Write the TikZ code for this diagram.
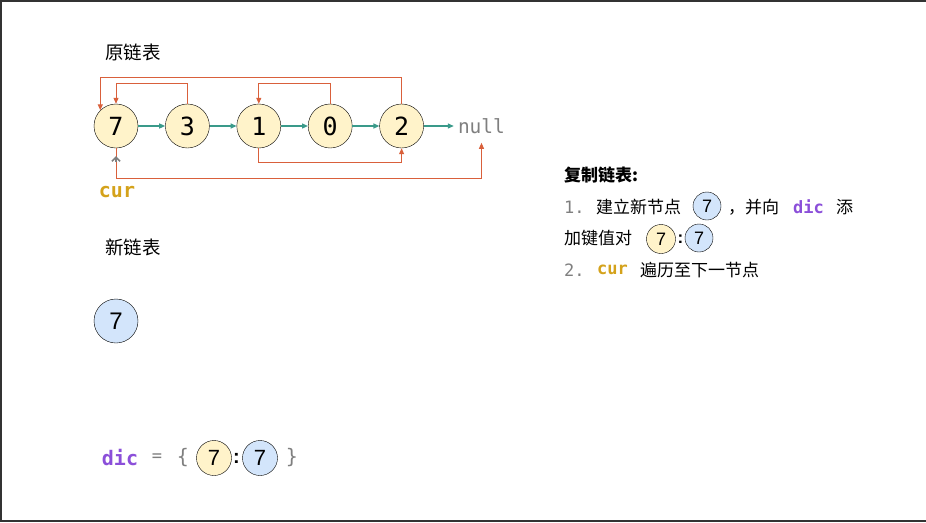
\documentclass[tikz,border=0pt]{standalone}
\usepackage{fontspec}
\setmainfont{Liberation Sans}
\setmonofont{DejaVu Sans Mono}
\newfontfamily\cjk{Noto Sans CJK SC}
\usetikzlibrary{arrows.meta,positioning}

\definecolor{ylwfill}{HTML}{FFF3CA}
\definecolor{blufill}{HTML}{D3E5FB}
\definecolor{nxtcol}{HTML}{3A9A8A}
\definecolor{rndcol}{HTML}{D9603B}
\definecolor{curcol}{HTML}{D4A21B}
\definecolor{diccol}{HTML}{8B4FD9}
\definecolor{gry}{HTML}{7F7F7F}

\tikzset{
  oldnode/.style={circle,draw,fill=ylwfill,minimum size=44pt,inner sep=0pt,
    font=\ttfamily\fontsize{25}{25}\selectfont},
  newnode/.style={circle,draw,fill=blufill,minimum size=44pt,inner sep=0pt,
    font=\fontsize{24}{24}\selectfont},
  dicold/.style={oldnode,minimum size=35pt,font=\fontsize{22}{22}\selectfont},
  dicnew/.style={newnode,minimum size=35pt,font=\fontsize{22}{22}\selectfont},
  smallold/.style={oldnode,minimum size=29pt,font=\fontsize{18}{18}\selectfont},
  smallnew/.style={newnode,minimum size=28pt,font=\fontsize{18}{18}\selectfont},
  colon/.style={inner sep=0pt,font=\bfseries\fontsize{20}{20}\selectfont},
  nextarr/.style={nxtcol,line width=1.2pt,-{Triangle[length=6pt,width=5pt]}},
  randarr/.style={rndcol,line width=1pt,-{Triangle[length=6pt,width=5pt]}},
  curarr/.style={gry,line width=1.5pt,-{Straight Barb[length=4pt,width=8pt]}},
  title/.style={inner sep=0pt,font=\cjk\fontsize{18.5}{18.5}\selectfont},
  note/.style={inner sep=0pt,anchor=west,font=\cjk\fontsize{17}{17}\selectfont},
  monogry/.style={inner sep=0pt,text=gry,font=\ttfamily\fontsize{17}{17}\selectfont},
  curtxt/.style={inner sep=0pt,text=curcol,font=\ttfamily\bfseries\fontsize{17}{17}\selectfont},
  dictxt/.style={inner sep=0pt,text=diccol,font=\ttfamily\bfseries\fontsize{17}{17}\selectfont}
}

\begin{document}
\begin{tikzpicture}[x=1pt,y=-1pt]
\useasboundingbox (0,0) rectangle (926,522);
\draw[line width=1.5pt,black!80] (926,1)--(1,1)--(1,521)--(926,521);

% original list
\node[title] (oldlbl) at (133,52) {原链表};
\node[oldnode] (a7) at (116,126) {7};
\node[oldnode,right=27pt of a7] (a3) {3};
\node[oldnode,right=27pt of a3] (a1) {1};
\node[oldnode,right=27pt of a1] (a0) {0};
\node[oldnode,right=27pt of a0] (a2) {2};
\node[monogry,font=\ttfamily\fontsize{19.5}{19.5}\selectfont,right=34pt of a2] (nul) {null};
\draw[nextarr] (a7)--(a3);
\draw[nextarr] (a3)--(a1);
\draw[nextarr] (a1)--(a0);
\draw[nextarr] (a0)--(a2);
\draw[nextarr,shorten >=4pt] (a2)--(nul);

% random pointers
\draw[randarr] (a3.north) -- ++(0,-20) -| (a7.north);
\draw[randarr] (a2.north) -- ++(0,-26) -| (a7.north west);
\draw[randarr] (a0.north) -- ++(0,-20) -| (a1.north);
\draw[randarr] (a1.south) -- ++(0,14) -| (a2.south);
\draw[randarr,shorten >=9pt] (a7.south) -- ++(0,30) -| (nul.south);

% cur
\node[curtxt,font=\ttfamily\bfseries\fontsize{20}{20}\selectfont] (cur) at (117,192) {cur};
\coordinate (curtail) at ([yshift=-14pt]a7.south);
\coordinate (curtip) at ([yshift=-8pt]a7.south);
\draw[curarr] (curtail) -- (curtip);

% new list
\node[title] (newlbl) at (133,247) {新链表};
\node[newnode] (b7) at (116,321) {7};

% dic
\node[dictxt,font=\ttfamily\bfseries\fontsize{20}{20}\selectfont] (dic) at (120,458) {dic};
\node[monogry] (eq) at (157,458) {=};
\node[monogry,font=\ttfamily\fontsize{20}{20}\selectfont] (lbr) at (183,458) {\{};
\node[dicold] (d7) at (214,458) {7};
\node[colon] (dcol) at (236.5,458) {:};
\node[dicnew] (e7) at (260,458) {7};
\node[monogry,font=\ttfamily\fontsize{20}{20}\selectfont] (rbr) at (292,458) {\}};

% notes
\node[note,font=\cjk\bfseries\fontsize{17}{17}\selectfont] (hd) at (564,175) {复制链表:};
\node[monogry,anchor=west] (s1) at (564,207) {1.};
\node[note] (t1) at (596,207) {建立新节点};
\node[smallnew] (c1) at (707,206) {7};
\node[note] (t2) at (728,207) {，并向};
\node[dictxt,anchor=west] (t3) at (793,207) {dic};
\node[note] (t4) at (836,207) {添};
\node[note] (t5) at (564,238) {加键值对};
\node[smallold] (c2) at (661,239) {7};
\node[colon,font=\bfseries\fontsize{17}{17}\selectfont] (c3) at (680.5,239) {:};
\node[smallnew] (c4) at (699,238) {7};
\node[monogry,anchor=west] (s2) at (564,270) {2.};
\node[curtxt,anchor=west] (t6) at (597,270) {cur};
\node[note] (t7) at (640,270) {遍历至下一节点};
\end{tikzpicture}
\end{document}
